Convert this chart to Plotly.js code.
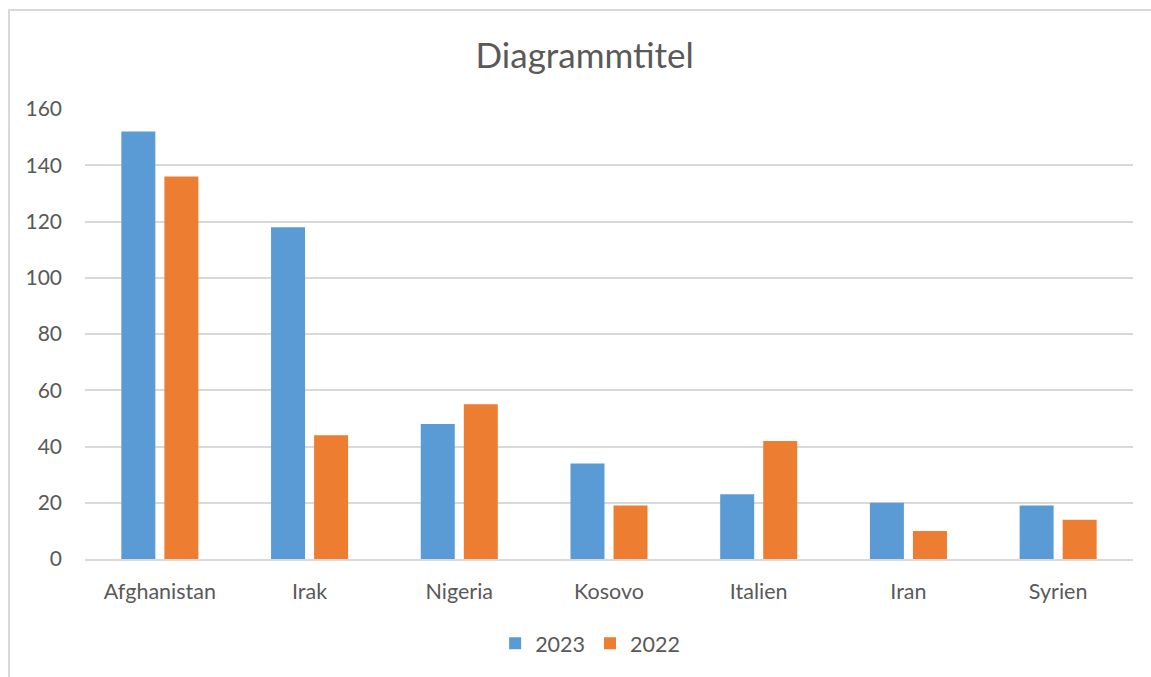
<!DOCTYPE html>
<html>
<head>
<meta charset="utf-8">
<script src="https://cdn.plot.ly/plotly-3.0.1.min.js"></script>
<style>
html,body{margin:0;padding:0;background:#fff;overflow:hidden;}
#frame{position:absolute;left:8px;top:9px;width:1200px;height:720px;border:2px solid #d9d9d9;box-sizing:border-box;}
#chart{position:absolute;left:0;top:0;width:1151px;height:677px;}
</style>
</head>
<body>
<div id="frame"></div>
<div id="chart"></div>
<script>
const categories = ["Afghanistan","Irak","Nigeria","Kosovo","Italien","Iran","Syrien"];
const values2023 = [152,118,48,34,23,20,19];
const values2022 = [136,44,55,19,42,10,14];
const yTicks = [0,20,40,60,80,100,120,140,160];

const font = "Lato, 'Open Sans', 'Liberation Sans', sans-serif";
const data = [
  {type:'bar', name:'2023', x:categories, y:values2023, marker:{color:'#5B9BD5'}},
  {type:'bar', name:'2022', x:categories, y:values2022, marker:{color:'#ED7D31'}}
];
const layout = {
  width:1151, height:677,
  paper_bgcolor:'rgba(0,0,0,0)', plot_bgcolor:'rgba(0,0,0,0)',
  margin:{l:85, r:18, t:109, b:118},
  title:{text:'Diagrammtitel', font:{family:font, size:35, color:'#595959'}, x:0.508, xanchor:'center', y:0.918, yanchor:'middle'},
  barmode:'group', bargap:0.425, bargroupgap:0.21,
  xaxis:{tickfont:{family:font,size:21.5,color:'#595959'}, showline:true, linecolor:'#d9d9d9', linewidth:2, ticks:'', ticklen:0, ticklabelstandoff:12, fixedrange:true},
  yaxis:{range:[0,160], tickvals:yTicks, ticktext:yTicks.map(String), tickfont:{family:font,size:21,color:'#595959'},
         gridcolor:'#d9d9d9', gridwidth:2, zeroline:false, showline:false, ticks:'', ticklabelstandoff:22, fixedrange:true},
  showlegend:true,
  legend:{orientation:'h', x:0.482, xanchor:'center', y:-0.187, yanchor:'middle', font:{family:font,size:21.5,color:'#595959'}, itemwidth:30, traceorder:'normal'}
};
Plotly.newPlot('chart', data, layout, {displayModeBar:false, staticPlot:true});
</script>
</body>
</html>
